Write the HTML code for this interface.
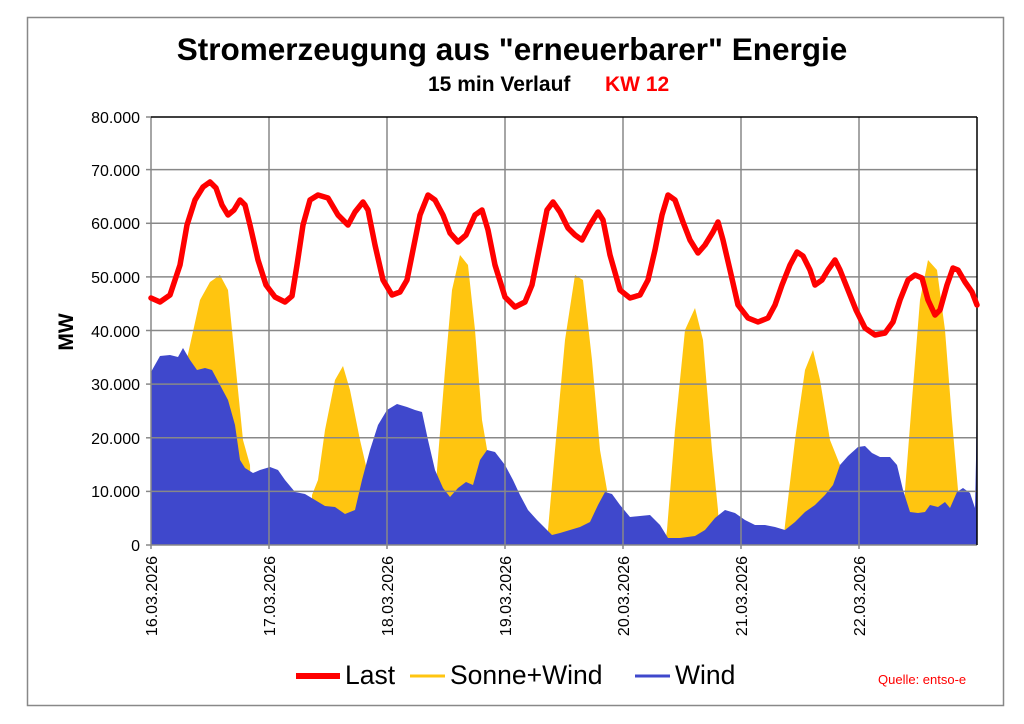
<!DOCTYPE html>
<html><head><meta charset="utf-8"><style>
body{margin:0;background:#fff;}
svg{display:block;font-family:"Liberation Sans",Arial,sans-serif;}
</style></head><body>
<svg width="1024" height="724" viewBox="0 0 1024 724">
<rect x="0" y="0" width="1024" height="724" fill="#fff"/>
<rect x="27.5" y="17.5" width="976" height="688" fill="none" stroke="#888" stroke-width="1.5"/>
<text x="512" y="60" text-anchor="middle" font-size="31.5" font-weight="bold">Stromerzeugung aus "erneuerbarer" Energie</text>
<text x="428" y="91" font-size="21" font-weight="bold">15 min Verlauf</text>
<text x="605" y="91" font-size="21" font-weight="bold" fill="#f00">KW 12</text>

<path fill="#ffc510" d="
M185,545 L185,368 L190,345 L200,300 L210,282 L220,275 L228,290 L235,360 L243,440 L250,465 L252,545 Z
M312,545 L312,495 L318,480 L325,430 L335,380 L343,366 L350,390 L360,440 L367,470 L370,545 Z
M434,545 L437,470 L445,370 L452,290 L460,255 L468,265 L475,330 L482,420 L488,455 L490,545 Z
M545,545 L548,530 L555,450 L565,340 L575,275 L583,280 L592,360 L600,450 L607,490 L609,545 Z
M665,545 L667,530 L675,430 L685,330 L695,308 L703,340 L712,450 L718,510 L720,545 Z
M783,545 L785,525 L795,440 L805,370 L813,350 L820,380 L830,440 L842,470 L845,545 Z
M902,545 L905,490 L912,400 L920,300 L928,260 L937,270 L945,330 L952,420 L958,490 L960,545 Z"/>
<path fill="#3f48cc" d="M151,545 L151,372 L160,356 L170,355 L178,357 L183,348 L190,360 L197,370 L205,368 L212,370 L220,385 L228,400 L235,425 L240,460 L245,468 L253,473 L260,470 L270,467 L278,470 L285,480 L295,492 L305,494 L315,500 L325,506 L335,507 L345,514 L355,510 L362,480 L370,450 L378,425 L387,410 L397,404 L407,407 L415,410 L422,412 L428,440 L435,470 L443,488 L450,497 L458,488 L466,482 L473,485 L480,460 L487,450 L495,452 L505,465 L513,480 L520,495 L528,510 L537,520 L545,528 L552,535 L560,533 L570,530 L580,527 L590,522 L598,505 L605,492 L612,494 L620,505 L630,517 L640,516 L650,515 L660,525 L668,538 L680,538 L695,536 L705,530 L715,518 L725,510 L735,513 L745,520 L755,525 L765,525 L775,527 L785,530 L795,522 L805,512 L815,505 L825,495 L833,485 L840,465 L848,456 L858,447 L865,446 L872,453 L880,457 L890,457 L897,465 L903,490 L910,512 L918,513 L925,512 L930,505 L938,507 L945,502 L950,508 L957,492 L963,488 L970,493 L975,508 L976,460 L977,375 L977,545 Z"/>

<g stroke="#888" stroke-width="1.5">
<line x1="151" y1="491.4" x2="977" y2="491.4"/><line x1="151" y1="437.8" x2="977" y2="437.8"/>
<line x1="151" y1="384.1" x2="977" y2="384.1"/><line x1="151" y1="330.5" x2="977" y2="330.5"/>
<line x1="151" y1="276.9" x2="977" y2="276.9"/><line x1="151" y1="223.3" x2="977" y2="223.3"/>
<line x1="151" y1="169.6" x2="977" y2="169.6"/>
<line x1="269" y1="117" x2="269" y2="549"/><line x1="387" y1="117" x2="387" y2="549"/>
<line x1="505" y1="117" x2="505" y2="549"/><line x1="623" y1="117" x2="623" y2="549"/>
<line x1="741" y1="117" x2="741" y2="549"/><line x1="859" y1="117" x2="859" y2="549"/>
<line x1="151" y1="117" x2="151" y2="549"/>
<line x1="146" y1="545" x2="977" y2="545"/>
<line x1="146" y1="491.4" x2="151" y2="491.4"/><line x1="146" y1="437.8" x2="151" y2="437.8"/>
<line x1="146" y1="384.1" x2="151" y2="384.1"/><line x1="146" y1="330.5" x2="151" y2="330.5"/>
<line x1="146" y1="276.9" x2="151" y2="276.9"/><line x1="146" y1="223.3" x2="151" y2="223.3"/>
<line x1="146" y1="169.6" x2="151" y2="169.6"/><line x1="146" y1="117" x2="151" y2="117"/>
</g>
<line x1="151" y1="117" x2="977" y2="117" stroke="#000" stroke-width="1.5"/>
<line x1="977" y1="117" x2="977" y2="545" stroke="#000" stroke-width="1.5"/>

<polyline fill="none" stroke="#f00" stroke-width="5.5" stroke-linejoin="round" stroke-linecap="round" points="151,298 160,302 170,295 180,265 187,225 195,200 203,187 210,182 216,188 222,205 228,215 234,210 240,200 245,205 250,225 258,260 266,285 275,297 285,302 292,296 297,265 303,225 310,200 318,195 328,198 338,215 348,225 355,212 363,202 368,210 375,245 383,280 392,295 400,292 407,280 413,250 420,215 428,195 435,200 443,215 450,233 458,242 466,235 475,215 482,210 488,230 495,265 505,297 515,307 525,302 532,285 540,245 547,210 553,202 560,212 568,228 575,235 582,240 590,225 598,212 603,220 610,255 620,290 630,298 640,295 648,280 655,250 662,215 668,195 675,200 683,222 690,240 698,253 705,245 713,232 718,222 723,240 730,270 738,305 748,318 758,322 768,318 775,305 782,285 790,265 797,252 803,256 810,270 815,285 822,280 828,270 835,260 840,270 848,290 856,310 865,328 875,335 885,333 893,322 900,300 908,280 915,275 922,278 928,300 935,315 940,310 947,285 953,268 958,270 965,282 972,292 977,305"/>

<g font-size="16" text-anchor="end">
<text x="140" y="551">0</text><text x="140" y="497">10.000</text><text x="140" y="444">20.000</text>
<text x="140" y="390">30.000</text><text x="140" y="337">40.000</text><text x="140" y="283">50.000</text>
<text x="140" y="229">60.000</text><text x="140" y="176">70.000</text><text x="140" y="123">80.000</text>
</g>
<text transform="translate(73,332) rotate(-90)" text-anchor="middle" font-size="21" font-weight="bold">MW</text>
<g font-size="16" text-anchor="end">
<text transform="translate(157,556) rotate(-90)">16.03.2026</text>
<text transform="translate(275,556) rotate(-90)">17.03.2026</text>
<text transform="translate(393,556) rotate(-90)">18.03.2026</text>
<text transform="translate(511,556) rotate(-90)">19.03.2026</text>
<text transform="translate(629,556) rotate(-90)">20.03.2026</text>
<text transform="translate(747,556) rotate(-90)">21.03.2026</text>
<text transform="translate(865,556) rotate(-90)">22.03.2026</text>
</g>
<line x1="296" y1="676" x2="340" y2="676" stroke="#f00" stroke-width="6"/>
<text x="345" y="684" font-size="26.5">Last</text>
<line x1="410" y1="676" x2="445" y2="676" stroke="#ffc510" stroke-width="3"/>
<text x="450" y="684" font-size="26.5">Sonne+Wind</text>
<line x1="635" y1="676" x2="670" y2="676" stroke="#3f48cc" stroke-width="3"/>
<text x="675" y="684" font-size="26.5">Wind</text>
<text x="878" y="684" font-size="13" fill="#f00">Quelle: entso-e</text>
</svg>
</body></html>
